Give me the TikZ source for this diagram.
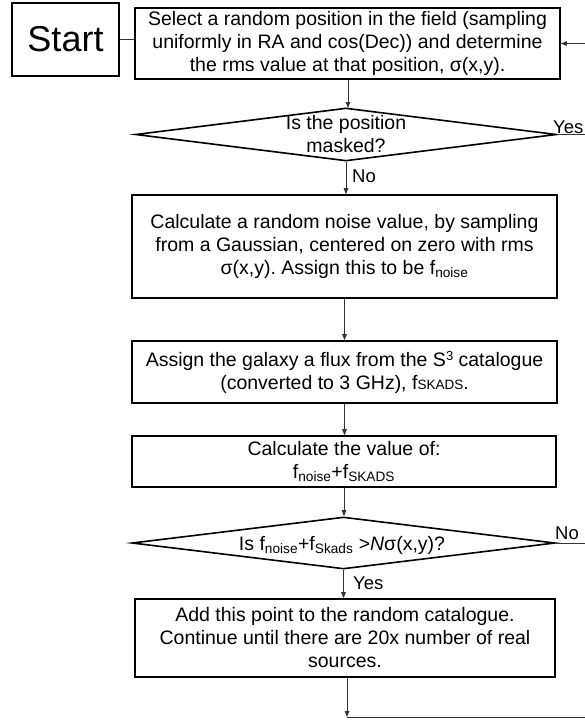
\documentclass[tikz,border=0pt]{standalone}
\usepackage{fontspec}
\setmainfont{Liberation Sans}
\usetikzlibrary{shapes.geometric,arrows.meta}
\frenchspacing
\begin{document}
\begin{tikzpicture}[x=1pt,y=-1pt,
  box/.style={draw=black,line width=1.6pt,align=center,inner sep=0pt,
    font=\fontsize{19.5}{23}\selectfont},
  dec/.style={draw=black,line width=1.6pt,diamond,inner sep=0pt},
  dectext/.style={align=center,inner sep=0pt,font=\fontsize{19.5}{23}\selectfont},
  lbl/.style={inner sep=0pt,anchor=west,font=\fontsize{18.5}{22}\selectfont},
  conn/.style={draw=black!80,line width=0.9pt},
  arr/.style={conn,-{Triangle[length=6pt,width=4.5pt]}}]
\useasboundingbox (0,0) rectangle (585,724);
\fill[white] (0,0) rectangle (585,724);

\node[box,minimum width=107pt,minimum height=73pt,font=\fontsize{36}{40}\selectfont]
  (start) at (65.5,39.5) {Start};
\node[box,minimum width=425pt,minimum height=71pt] (b1) at (347.5,43.5)
  {Select a random position in the field (sampling\\
   uniformly in RA and cos(Dec)) and determine\\
   the rms value at that position, σ(x,y).};
\node[dec,minimum width=421pt,minimum height=53pt] (d1) at (346,134.5) {};
\node[dectext] (d1t) at (346,134.5) {Is the position\\masked?};
\node[box,minimum width=425pt,minimum height=103pt] (b2) at (344.5,246.5)
  {Calculate a random noise value, by sampling\\
   from a Gaussian, centered on zero with rms\\
   σ(x,y). Assign this to be f\textsubscript{noise}};
\node[box,minimum width=425pt,minimum height=62pt] (b3) at (344.5,372)
  {Assign the galaxy a flux from the S{\fontsize{13}{14}\selectfont\raisebox{6pt}{3}} catalogue\\
   (converted to 3 GHz), f{\fontsize{13.5}{14}\selectfont SKADS}.};
\node[box,minimum width=424pt,minimum height=51pt] (b4) at (344,461.5)
  {Calculate the value of:\\
   f\textsubscript{noise}+f\textsubscript{SKADS}};
\node[dec,minimum width=423pt,minimum height=52pt] (d2) at (343.5,543) {};
\node[dectext] (d2t) at (342,545)
  {Is f\textsubscript{noise}+f\textsubscript{Skads} >\textit{N}σ(x,y)?};
\node[box,minimum width=420pt,minimum height=78pt] (b5) at (345,638)
  {Add this point to the random catalogue.\\
   Continue until there are 20x number of real\\
   sources.};

% coordinates at the right edge
\coordinate (r1) at (585,43.5);
\coordinate (r2) at (585,134.5);
\coordinate (r3) at (585,543);
\coordinate (j5) at (347,717);
\coordinate (r5) at (585,717);

% connectors
\draw[conn] (start.east) -- (start.east -| b1.west);
\draw[arr] (r1) -- (b1.east);
\draw[arr] (348,79.5) -- (348,108);
\draw[arr] (d1.south) -- (d1.south |- b2.north);
\draw[arr] (b2.south) -- (b2.south |- b3.north);
\draw[arr] (b3.south) -- (b3.south |- b4.north);
\draw[arr] (b4.south) -- (b4.south |- d2.north);
\draw[arr] (d2.south) -- (d2.south |- b5.north);
\draw[arr] (b5.south -| j5) -- (j5);
\draw[conn] (j5) -- (r5);
\draw[conn] (d1.east) -- (r2);
\draw[conn] (d2.east) -- (r3);

% labels
\node[lbl] (yes1) at (553,127) {Yes};
\node[lbl] (no1) at (352,176) {No};
\node[lbl] (no2) at (555,533) {No};
\node[lbl] (yes2) at (353,583) {Yes};
\end{tikzpicture}
\end{document}
